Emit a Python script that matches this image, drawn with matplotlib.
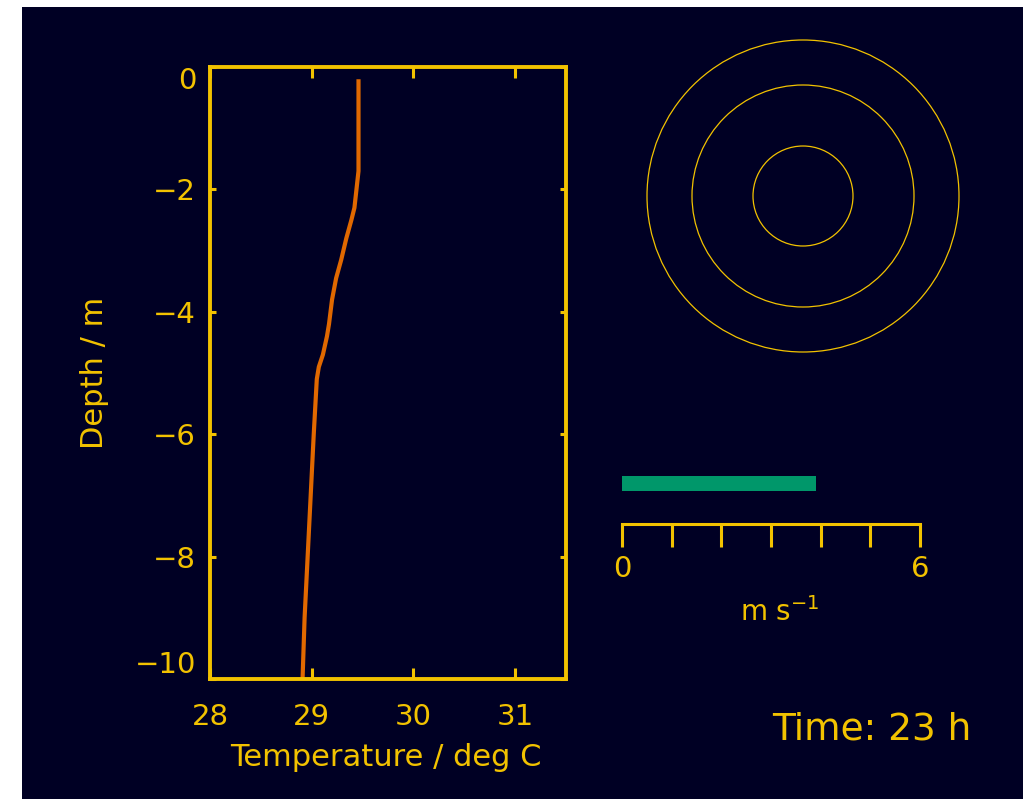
import matplotlib
matplotlib.use("Agg")
import matplotlib.pyplot as plt
from matplotlib.patches import Rectangle, Circle

# Temperature profile at the end of the run
depth_m = [-0.2, -1.7, -2.0, -2.3, -2.5, -2.8, -3.15, -3.45, -3.8, -4.2,
           -4.4, -4.7, -4.9, -5.1, -6.0, -7.0, -8.0, -9.0, -10.0]
temperature_c = [29.46, 29.46, 29.44, 29.42, 29.39, 29.34, 29.29, 29.24, 29.20, 29.17,
                 29.15, 29.11, 29.07, 29.05, 29.02, 28.99, 28.96, 28.93, 28.91]

temp_ticks = [28, 29, 30, 31]
depth_ticks = [0, -2, -4, -6, -8, -10]

# Wind speed and reference rings
wind_speed = 3.9
speed_ticks = [0, 1, 2, 3, 4, 5, 6]
speed_tick_labels = ["0", "", "", "", "", "", "6"]
ring_radii = [1.0, 2.22, 3.12]

hour = 23

BG = "#000024"
YEL = "#f2c200"
ORANGE = "#e06800"
GREEN = "#00976a"

W, H = 1023, 799
fig = plt.figure(figsize=(W / 100, H / 100), dpi=100, facecolor="white")
fig.patches.append(Rectangle((22 / W, 0), 1 - 22 / W, 1 - 7 / H,
                             transform=fig.transFigure, facecolor=BG,
                             edgecolor="none", zorder=-10))

plt.rcParams["font.family"] = ["DejaVu Sans"]


def fig_box(x0, y0, x1, y1):
    """Pixel box (top-left origin) to figure-fraction rect."""
    return [x0 / W, 1 - y1 / H, (x1 - x0) / W, (y1 - y0) / H]


# --- temperature profile panel ---
ax = fig.add_axes(fig_box(210, 67, 566, 679))
ax.set_facecolor("none")
ax.plot(temperature_c, depth_m, color=ORANGE, lw=3.0, solid_capstyle="butt")
ax.set_xlim(28, 31.5)
ax.set_ylim(-10, 0)
ax.set_xticks(temp_ticks)
ax.set_yticks(depth_ticks)
ax.set_yticklabels([f"{t:d}".replace("-", "\u2212") for t in depth_ticks])
for s in ax.spines.values():
    s.set_color(YEL)
    s.set_linewidth(2.8)
ax.tick_params(axis="x", direction="in", length=8, width=2.2, color=YEL,
               labelcolor=YEL, labelsize=21, pad=17, top=True)
ax.tick_params(axis="y", direction="in", length=4.5, width=2.2, color=YEL,
               labelcolor=YEL, labelsize=21, pad=10, right=True)
# keep the end labels inside the axis range
ylabels = ax.get_yticklabels()
ylabels[0].set_va("top")
ylabels[-1].set_va("bottom")
ax.set_xlabel("Temperature / deg C", color=YEL, fontsize=22)
ax.set_ylabel("Depth / m", color=YEL, fontsize=22)
ax.xaxis.set_label_coords(0.494, -0.105)
ax.yaxis.set_label_coords(-0.325, 0.5)
ax.yaxis.label.set_va("center")

# --- reference rings ---
cx, cy, half = 803, 196, 170
axc = fig.add_axes(fig_box(cx - half, cy - half, cx + half, cy + half))
axc.set_xlim(-3.4, 3.4)
axc.set_ylim(-3.4, 3.4)
axc.set_aspect("equal")
axc.axis("off")
for r in ring_radii:
    axc.add_patch(Circle((0, 0), r, fill=False, edgecolor=YEL, lw=0.9))

# --- wind speed bar with scale ---
axs = fig.add_axes(fig_box(622, 470, 920, 524))
axs.set_facecolor("none")
axs.set_xlim(0, 6)
axs.set_ylim(0, 1)
axs.barh(0.75, wind_speed, height=0.28, left=0, color=GREEN)
for side in ("top", "left", "right"):
    axs.spines[side].set_visible(False)
axs.spines["bottom"].set_color(YEL)
axs.spines["bottom"].set_linewidth(2.2)
axs.spines["bottom"].set_capstyle("projecting")
axs.set_yticks([])
axs.set_xticks(speed_ticks)
axs.set_xticklabels(speed_tick_labels)
axs.tick_params(axis="x", direction="out", length=16.5, width=2.2, color=YEL,
                labelcolor=YEL, labelsize=21, pad=6)
axs.set_xlabel("m s$^{\\mathregular{-1}}$", color=YEL, fontsize=20)
axs.xaxis.set_label_coords(0.53, -1.35)

# --- time stamp ---
fig.text(772 / W, 1 - 740 / H, f"Time: {hour} h", color=YEL, fontsize=27,
         ha="left", va="baseline")

fig.savefig("out.png", dpi=100, facecolor=fig.get_facecolor())
